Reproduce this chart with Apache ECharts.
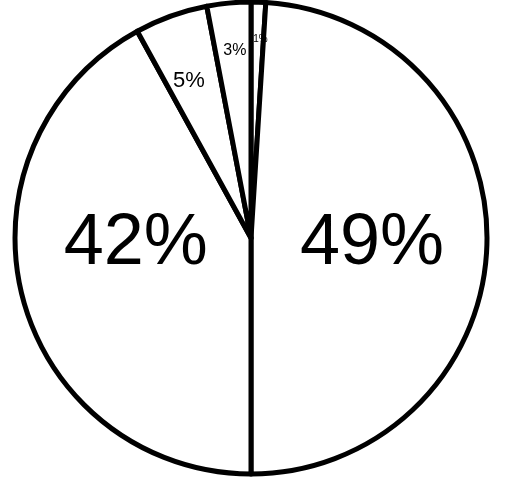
<!DOCTYPE html>
<html>
<head>
<meta charset="utf-8">
<script src="https://cdn.jsdelivr.net/npm/echarts@6/dist/echarts.min.js"></script>
<style>html,body{margin:0;padding:0;background:#fff}#c{width:511px;height:485px}</style>
</head>
<body>
<div id="c"></div>
<script>
// Slices in clockwise order starting at 12 o'clock
const categories = ['A', 'B', 'C', 'D', 'E'];
const values = [1, 49, 42, 5, 3];
const labels = ['1%', '49%', '42%', '5%', '3%'];
const bigSlices = [1, 2];   // labels drawn large, mid-radius
const smallSlices = [0, 3, 4]; // labels drawn small, near the rim

const FONT = '"Liberation Sans", Arial, sans-serif';
const bigStyle = { fontSize: 72, color: '#000', fontFamily: FONT };
const smallSizes = { 0: 10, 3: 22, 4: 16 };
// label nudges (dx, dy) per slice
const bigShift = { 1: [0, 2], 2: [2, -24] };
const smallShift = { 0: [4, -27], 3: [-4, 4], 4: [0, -17] };

const mainData = categories.map((c, i) => ({
  name: c,
  value: values[i],
  label: bigSlices.includes(i)
    ? Object.assign({ show: true, formatter: labels[i] }, bigStyle)
    : { show: false }
}));
const overlayData = categories.map((c, i) => ({
  name: c,
  value: values[i],
  label: smallSlices.includes(i)
    ? { show: true, formatter: labels[i], fontSize: smallSizes[i], color: '#000', fontFamily: FONT }
    : { show: false }
}));

const chart = echarts.init(document.getElementById('c'), null, { renderer: 'canvas' });
chart.setOption({
  animation: false,
  backgroundColor: '#fff',
  series: [
    {
      type: 'pie',
      center: [251, 238],
      radius: [0, 236],
      startAngle: 90,
      clockwise: true,
      silent: true,
      itemStyle: { color: '#fff', borderColor: '#000', borderWidth: 5, borderJoin: 'round' },
      label: { position: 'inside' },
      labelLine: { show: false },
      labelLayout: function (p) {
        const s = bigShift[p.dataIndex] || [0, 0];
        return { dx: s[0], dy: s[1] };
      },
      emphasis: { disabled: true },
      data: mainData
    },
    {
      type: 'pie',
      center: [251, 238],
      radius: [133, 204],
      startAngle: 90,
      clockwise: true,
      silent: true,
      z: 3,
      itemStyle: { color: 'rgba(0,0,0,0)', borderWidth: 0 },
      label: { position: 'inside' },
      labelLine: { show: false },
      labelLayout: function (p) {
        const s = smallShift[p.dataIndex] || [0, 0];
        return { dx: s[0], dy: s[1] };
      },
      emphasis: { disabled: true },
      data: overlayData
    }
  ]
});
</script>
</body>
</html>
